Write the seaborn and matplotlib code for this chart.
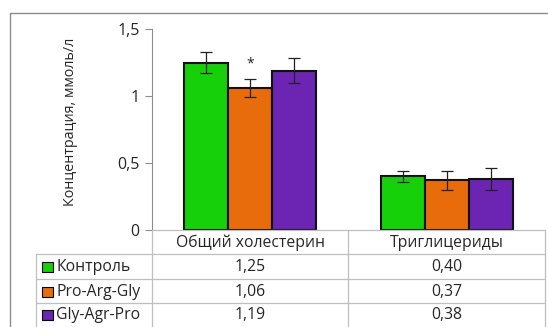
import pandas as pd
import seaborn as sns
import matplotlib.pyplot as plt
from matplotlib.patches import Rectangle
from matplotlib.lines import Line2D

# data
categories = ['Общий холестерин', 'Триглицериды']
groups = ['Контроль', 'Pro-Arg-Gly', 'Gly-Agr-Pro']
control = [1.25, 0.40]
pro_arg_gly = [1.06, 0.37]
gly_agr_pro = [1.19, 0.38]
err_control = [0.08, 0.04]
err_pro_arg_gly = [0.07, 0.07]
err_gly_agr_pro = [0.09, 0.08]
yticks = [0, 0.5, 1, 1.5]
ytick_labels = ['0', '0,5', '1', '1,5']

colors = ['#16d10a', '#e96c0c', '#6b25b2']
grid_col = '#bfbfbf'

df = pd.DataFrame({
    'category': categories * 3,
    'group': [g for g in groups for _ in categories],
    'value': control + pro_arg_gly + gly_agr_pro,
    'err': err_control + err_pro_arg_gly + err_gly_agr_pro,
})

sns.set_style('white')
plt.rcParams['font.family'] = ['Open Sans', 'DejaVu Sans']
FS = 11.3

W, H = 548, 327
fig = plt.figure(figsize=(W / 100, H / 100), dpi=100)

# plot area in pixels: x 152..545, y 29..230
ax = fig.add_axes([152 / W, (H - 230) / H, (545 - 152) / W, (230 - 29) / H])

sns.barplot(data=df, x='category', y='value', hue='group', order=categories,
            hue_order=groups, palette=colors, width=0.67, errorbar=None,
            edgecolor='#111111', linewidth=1.5, saturation=1, legend=False, ax=ax)

# error bars at the bar centres that seaborn placed
for cont, g in zip(ax.containers, groups):
    sub = df[df['group'] == g].set_index('category').loc[categories]
    xs = [b.get_x() + b.get_width() / 2 for b in cont]
    ax.errorbar(xs, sub['value'], yerr=sub['err'], fmt='none', ecolor='#222222',
                elinewidth=0.9, capsize=4, capthick=0.9, zorder=5)

# significance mark over Pro-Arg-Gly, total cholesterol
b = ax.containers[1][0]
ax.text(b.get_x() + b.get_width() / 2, pro_arg_gly[0] + err_pro_arg_gly[0] + 0.05, '*',
        ha='center', va='bottom', fontsize=10, color='#222222')

ax.set_xlim(-0.5, 1.5)
ax.set_ylim(0, 1.5)
ax.set_yticks(yticks)
ax.set_yticklabels(ytick_labels, fontsize=11.5)
ax.tick_params(axis='y', length=5, width=0.8, color='#8c8c8c', left=True, pad=4)
ax.set_xticks([])
ax.set_xlabel('')
ax.set_ylabel('')
for s in ['top', 'right', 'bottom']:
    ax.spines[s].set_visible(False)
ax.spines['left'].set_color('#8c8c8c')
ax.spines['left'].set_linewidth(0.8)

fig.text(70 / W, 1 - 122 / H, 'Концентрация, ммоль/л', rotation=90,
         ha='center', va='center', fontsize=10.3)

# data table below the axis (pixel coordinates on the figure)
def fx(x):
    return x / W


def fy(y):
    return 1 - y / H


def hline(y, x0, x1):
    fig.add_artist(Line2D([fx(x0), fx(x1)], [fy(y), fy(y)], color=grid_col, lw=0.9))


def vline(x, y0, y1):
    fig.add_artist(Line2D([fx(x), fx(x)], [fy(y0), fy(y1)], color=grid_col, lw=0.9))


hline(230, 152, 545)
for y in [254, 278.5, 303]:
    hline(y, 36, 545)
vline(36, 254, 330)
for x in [152, 348, 545]:
    vline(x, 230, 330)

col_centres = [250, 446.5]
for cx, c in zip(col_centres, categories):
    fig.text(fx(cx), fy(243), c, ha='center', va='center', fontsize=FS)

row_centres = [267, 291.5, 315]
vals = [control, pro_arg_gly, gly_agr_pro]
for ry, g, col, v in zip(row_centres, groups, colors, vals):
    fig.add_artist(Rectangle((fx(42), fy(ry + 5)), 11 / W, 10 / H,
                             facecolor=col, edgecolor='black', lw=0.8))
    fig.text(fx(56), fy(ry), g, ha='left', va='center', fontsize=FS)
    for cx, val in zip(col_centres, v):
        fig.text(fx(cx), fy(ry), f'{val:.2f}'.replace('.', ','),
                 ha='center', va='center', fontsize=FS)

# outer chart frame
fig.add_artist(Line2D([fx(10), fx(10)], [fy(13), fy(340)], color='#8c8c8c', lw=1))
fig.add_artist(Line2D([fx(10), fx(560)], [fy(13), fy(13)], color='#8c8c8c', lw=1))

fig.savefig('out.png', dpi=100)
